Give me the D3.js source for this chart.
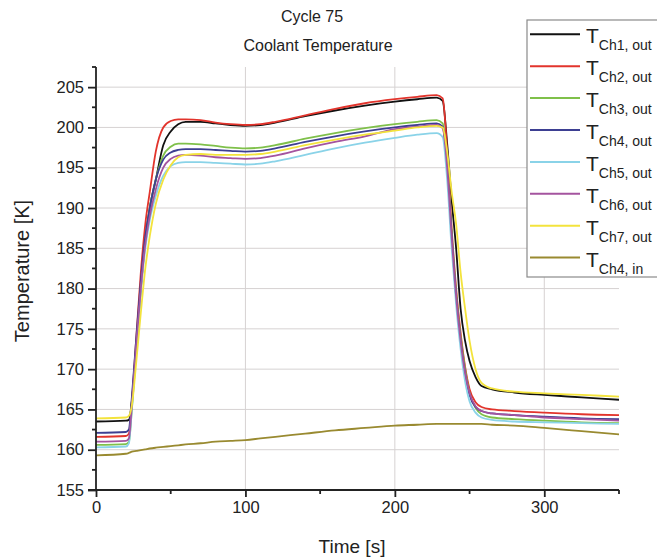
<!DOCTYPE html>
<html>
<head>
<meta charset="utf-8">
<script src="https://cdn.jsdelivr.net/npm/d3@7"></script>
<style>
  body { margin: 0; background: #fff; }
  svg { font-family: "Liberation Sans", Arial, sans-serif; }
</style>
</head>
<body>
<div id="chart"></div>
<script>
// Chart data.
const times = [0, 20, 22, 24, 27, 30, 33, 36, 40, 45, 50, 55, 60, 70, 80, 90, 100, 110, 120, 140, 160, 180, 200, 215, 228, 232, 235, 238, 241, 244, 247, 250, 254, 258, 265, 280, 300, 325, 350];

const ch1Out = [163.5, 163.6, 163.7, 166, 173, 180, 186, 190, 193.5, 197.8, 199.5, 200.4, 200.7, 200.7, 200.5, 200.3, 200.2, 200.3, 200.6, 201.4, 202.1, 202.7, 203.2, 203.5, 203.7, 203.3, 198, 191, 185, 177.5, 173.5, 171, 169, 167.9, 167.5, 167.1, 166.8, 166.5, 166.2];
const ch2Out = [161.6, 161.7, 162, 166, 174, 182, 188, 192, 197, 200, 200.8, 201.0, 201.0, 200.9, 200.6, 200.4, 200.3, 200.4, 200.7, 201.5, 202.3, 203.0, 203.5, 203.8, 204.0, 203.6, 197, 187.5, 180, 174.5, 170.3, 167.5, 165.9, 165.3, 165.0, 164.8, 164.6, 164.4, 164.3];
const ch3Out = [160.6, 160.7, 161, 165, 172.5, 180, 186, 190, 193.5, 196.5, 197.6, 198.0, 198.0, 197.9, 197.7, 197.5, 197.4, 197.5, 197.8, 198.6, 199.3, 199.9, 200.4, 200.7, 200.9, 200.5, 195.5, 187, 179.5, 174, 170, 167, 165.2, 164.4, 164.0, 163.8, 163.6, 163.4, 163.3];
const ch4Out = [162.1, 162.2, 162.5, 166.5, 174, 181, 186.5, 190, 193.5, 196, 196.9, 197.2, 197.3, 197.3, 197.2, 197.1, 197.0, 197.1, 197.4, 198.2, 198.9, 199.5, 200.0, 200.3, 200.5, 200.1, 195, 186.5, 179, 173.5, 169.5, 166.8, 165.3, 164.8, 164.5, 164.3, 164.1, 163.9, 163.8];
const ch5Out = [160.3, 160.4, 160.8, 165, 172.5, 179.5, 185, 188.5, 191.5, 194, 195.2, 195.6, 195.7, 195.7, 195.6, 195.5, 195.4, 195.5, 195.8, 196.6, 197.4, 198.1, 198.7, 199.1, 199.3, 198.8, 193.5, 185, 178, 172.5, 168.5, 166, 164.6, 164.0, 163.7, 163.5, 163.4, 163.3, 163.2];
const ch6Out = [161.0, 161.1, 161.4, 165.5, 173, 180, 185.5, 189, 192.3, 195, 196.1, 196.5, 196.6, 196.5, 196.3, 196.2, 196.1, 196.2, 196.5, 197.4, 198.2, 198.9, 199.8, 200.1, 200.3, 199.9, 195, 186.5, 179, 173.5, 169.5, 167, 165.4, 164.8, 164.5, 164.3, 164.0, 163.8, 163.6];
const ch7Out = [163.9, 164.0, 164.2, 165.5, 171, 177, 182.5, 186.5, 190.5, 193.5, 195.3, 196.3, 196.6, 196.7, 196.6, 196.6, 196.6, 196.7, 197.0, 197.8, 198.5, 199.1, 199.6, 200.0, 200.2, 200.0, 197, 192, 188, 182, 177.5, 173.5, 170, 168.3, 167.6, 167.2, 167.0, 166.8, 166.6];
const ch4In = [159.3, 159.5, 159.6, 159.75, 159.85, 159.95, 160.05, 160.15, 160.25, 160.35, 160.45, 160.55, 160.65, 160.8, 161.0, 161.1, 161.2, 161.4, 161.6, 162.0, 162.4, 162.7, 163.0, 163.1, 163.2, 163.2, 163.2, 163.2, 163.2, 163.2, 163.2, 163.2, 163.2, 163.2, 163.1, 163.0, 162.7, 162.3, 161.9];

const seriesValues = [ch1Out, ch2Out, ch3Out, ch4Out, ch5Out, ch6Out, ch7Out, ch4In];
const seriesSubs = ["Ch1, out", "Ch2, out", "Ch3, out", "Ch4, out", "Ch5, out", "Ch6, out", "Ch7, out", "Ch4, in"];
const seriesColors = ["#111111", "#e2342c", "#7fc04a", "#3d3f92", "#8ad3e8", "#a4549f", "#f3e33c", "#998a30"];

const xTicks = [0, 100, 200, 300];
const xMinor = [50, 150, 250, 350];
const yTicks = [155, 160, 165, 170, 175, 180, 185, 190, 195, 200, 205];
const yMinor = [157.5, 162.5, 167.5, 172.5, 177.5, 182.5, 187.5, 192.5, 197.5, 202.5, 207.5];

// Global sizes.
let width = 657
let height = 558

let svg = d3.select("#chart").append("svg")
    .attr("width", width)
    .attr("height", height);

// Scales.
let xScale = d3.scaleLinear().domain([0, 350]).range([96, 619]);
let yScale = d3.scaleLinear().domain([155, 207.5]).range([490, 67]);

// Grid lines.
svg.append("g").selectAll("line.h")
    .data(yTicks.slice(1))
    .enter().append("line")
    .attr("x1", xScale(0)).attr("x2", xScale(350))
    .attr("y1", d => yScale(d)).attr("y2", d => yScale(d))
    .style("stroke", "#d6d2d2").style("stroke-width", 1);

svg.append("g").selectAll("line.v")
    .data(xTicks.slice(1))
    .enter().append("line")
    .attr("x1", d => xScale(d)).attr("x2", d => xScale(d))
    .attr("y1", yScale(155)).attr("y2", yScale(207.5))
    .style("stroke", "#d6d2d2").style("stroke-width", 1);

// Lines.
let line = d3.line()
    .x((d, i) => xScale(times[i]))
    .y(d => yScale(d))
    .curve(d3.curveMonotoneX);

svg.append("g").selectAll("path")
    .data(seriesValues)
    .enter().append("path")
    .attr("d", d => line(d))
    .style("fill", "none")
    .style("stroke", (d, i) => seriesColors[i])
    .style("stroke-width", 1.8);

// Axes.
let xAxis = d3.axisBottom(xScale).tickValues(xTicks).tickSize(7).tickPadding(4).tickSizeOuter(0);
let yAxis = d3.axisLeft(yScale).tickValues(yTicks).tickSize(8).tickPadding(4).tickSizeOuter(0);

let gx = svg.append("g").attr("transform", "translate(0," + yScale(155) + ")").call(xAxis);
let gy = svg.append("g").attr("transform", "translate(" + xScale(0) + ",0)").call(yAxis);

gx.append("g").selectAll("line")
    .data(xMinor).enter().append("line")
    .attr("x1", d => xScale(d)).attr("x2", d => xScale(d))
    .attr("y1", 0).attr("y2", 4);
gy.append("g").selectAll("line")
    .data(yMinor).enter().append("line")
    .attr("y1", d => yScale(d)).attr("y2", d => yScale(d))
    .attr("x1", 0).attr("x2", -4);

[gx, gy].forEach(g => {
    g.selectAll("path.domain").style("stroke", "#222").style("stroke-width", 1.8);
    g.selectAll("line").style("stroke", "#222").style("stroke-width", 1.8);
    g.selectAll("text").style("font-size", "16.5px").style("fill", "#222")
        .style("font-family", "'Liberation Sans', Arial, sans-serif");
});
gy.select("path.domain").attr("d", "M0," + yScale(155) + "V" + yScale(207.5));
gx.select("path.domain").attr("d", "M" + (xScale(0) - 8) + ",0H" + xScale(350));

// Titles.
svg.append("text").attr("x", 312).attr("y", 22)
    .style("text-anchor", "middle").style("font-size", "16px").style("fill", "#222")
    .text("Cycle 75");
svg.append("text").attr("x", 318).attr("y", 51)
    .style("text-anchor", "middle").style("font-size", "16px").style("fill", "#222")
    .text("Coolant Temperature");

svg.append("text")
    .attr("transform", "translate(29,271) rotate(-90)")
    .style("text-anchor", "middle").style("font-size", "20px").style("fill", "#222")
    .text("Temperature [K]");
svg.append("text")
    .attr("x", 352).attr("y", 553)
    .style("text-anchor", "middle").style("font-size", "19px").style("fill", "#222")
    .text("Time [s]");

// Legend.
let legend = svg.append("g");
legend.append("rect")
    .attr("x", 527).attr("y", 20).attr("width", 150).attr("height", 257)
    .style("fill", "#fff").style("stroke", "#8a8a8a").style("stroke-width", 1.2);

let rows = legend.selectAll("g.row")
    .data(seriesSubs)
    .enter().append("g")
    .attr("transform", (d, i) => "translate(0," + (34.3 + i * 31.9) + ")");

rows.append("line")
    .attr("x1", 530).attr("x2", 580).attr("y1", 0).attr("y2", 0)
    .style("stroke", (d, i) => seriesColors[i]).style("stroke-width", 2);

let label = rows.append("text").attr("x", 586).attr("y", 9).style("fill", "#222");
label.append("tspan").style("font-size", "21px").text("T");
label.append("tspan").attr("dy", 7).style("font-size", "14px").text(d => d);
</script>
</body>
</html>
